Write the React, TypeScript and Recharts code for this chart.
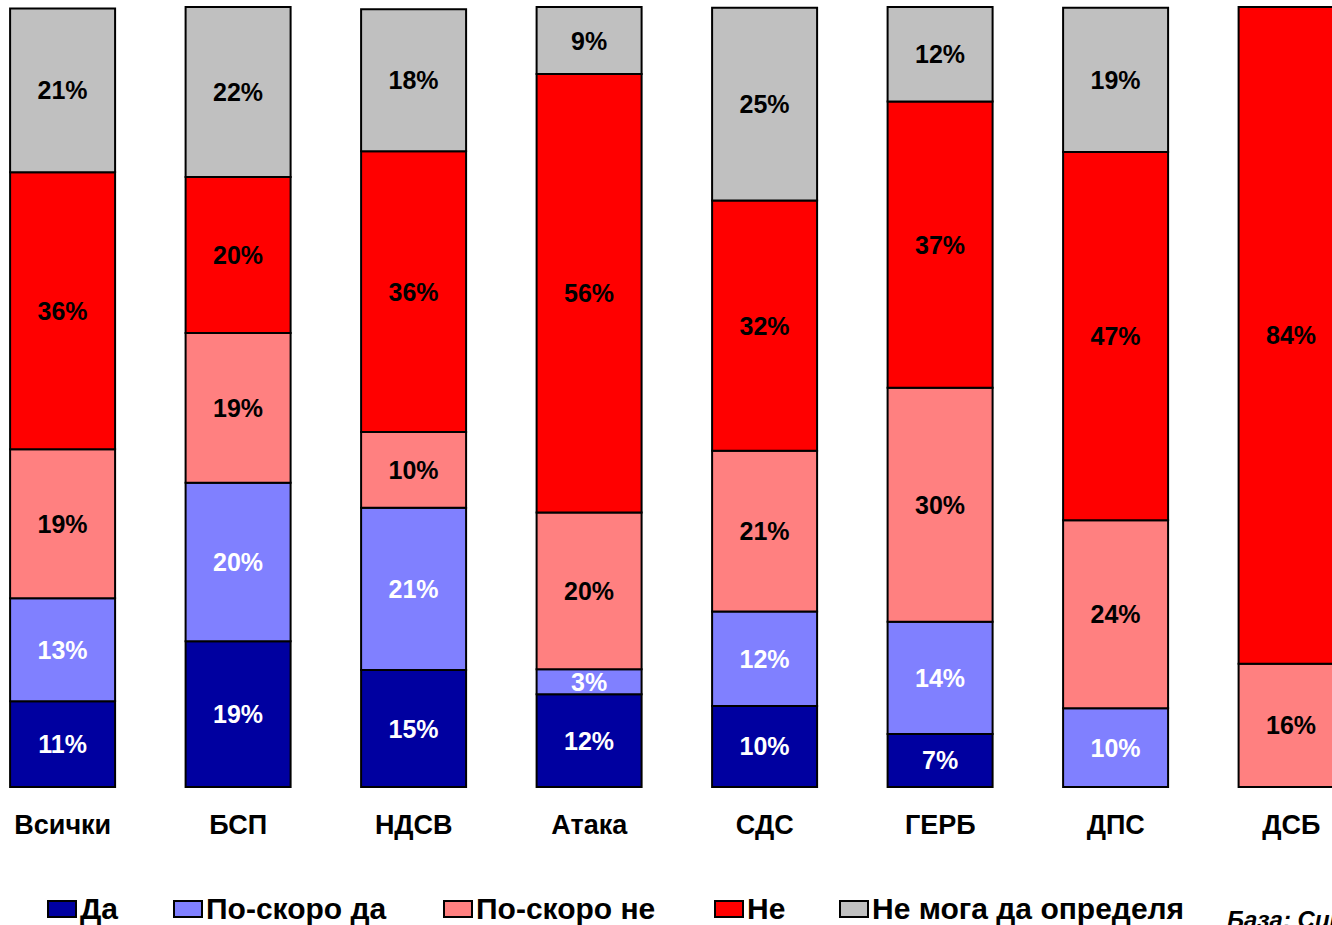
import React from "react";
import { BarChart, Bar, XAxis, YAxis, LabelList } from "recharts";

const categories = ["Всички", "БСП", "НДСВ", "Атака", "СДС", "ГЕРБ", "ДПС", "ДСБ"];
const da = [11.0, 18.7, 15.0, 11.9, 10.4, 6.8, 0, 0];
const poSkoroDa = [13.2, 20.3, 20.8, 3.2, 12.1, 14.4, 10.1, 0];
const poSkoroNe = [19.1, 19.2, 9.7, 20.1, 20.6, 30.0, 24.1, 15.8];
const ne = [35.5, 20.0, 36.0, 56.2, 32.1, 36.7, 47.2, 84.2];
const neMoga = [21.0, 21.8, 18.2, 8.6, 24.7, 12.1, 18.5, 0];

const seriesNames = ["Да", "По-скоро да", "По-скоро не", "Не", "Не мога да определя"];
const seriesKeys = ["da", "poSkoroDa", "poSkoroNe", "ne", "neMoga"];
const seriesColors = ["#0000A0", "#8080FF", "#FF8080", "#FF0000", "#C0C0C0"];
const labelColors = ["#FFFFFF", "#FFFFFF", "#000000", "#000000", "#000000"];
const baseNote = "База: Симпатизанти";

const data = categories.map((c, i) => ({
  name: c,
  da: da[i],
  poSkoroDa: poSkoroDa[i],
  poSkoroNe: poSkoroNe[i],
  ne: ne[i],
  neMoga: neMoga[i],
}));

const FONT = "'Liberation Sans', Arial, sans-serif";

const makeLabel = (color: string) => (props: any) => {
  const { x, y, width, height, value } = props;
  if (!value) return null;
  return (
    <text
      x={x + width / 2}
      y={y + height / 2}
      textAnchor="middle"
      dominantBaseline="central"
      fill={color}
      fontFamily={FONT}
      fontWeight="bold"
      fontSize={25}
    >
      {Math.round(value) + "%"}
    </text>
  );
};

const CatTick = (props: any) => {
  const { x, payload } = props;
  return (
    <text
      x={x}
      y={834}
      textAnchor="middle"
      fill="#000"
      fontFamily={FONT}
      fontWeight="bold"
      fontSize={27}
    >
      {payload.value}
    </text>
  );
};

const legendPos = [47, 173, 443, 714, 839];

export default function App() {
  return (
    <div
      style={{
        position: "absolute",
        left: 0,
        top: 0,
        width: 1332,
        height: 925,
        overflow: "hidden",
        background: "#fff",
      }}
    >
      <div style={{ position: "absolute", left: -25, top: 0 }}>
        <BarChart
          width={1404}
          height={850}
          data={data}
          margin={{ top: 7, right: 0, left: 0, bottom: 0 }}
          barCategoryGap="20%"
        >
          <XAxis
            dataKey="name"
            axisLine={false}
            tickLine={false}
            height={63}
            tick={<CatTick />}
            interval={0}
          />
          <YAxis hide domain={[0, 100]} />
          {seriesKeys.map((k, i) => (
            <Bar
              key={k}
              dataKey={k}
              stackId="a"
              fill={seriesColors[i]}
              stroke="#000"
              strokeWidth={2}
              isAnimationActive={false}
            >
              <LabelList dataKey={k} content={makeLabel(labelColors[i])} />
            </Bar>
          ))}
        </BarChart>
      </div>
      {seriesNames.map((n, i) => (
        <div
          key={n}
          style={{
            position: "absolute",
            left: legendPos[i],
            top: 894,
            display: "flex",
            alignItems: "center",
            fontFamily: FONT,
            fontWeight: "bold",
            fontSize: 30,
            whiteSpace: "nowrap",
            lineHeight: "30px",
          }}
        >
          <span
            style={{
              display: "inline-block",
              width: 26,
              height: 14,
              background: seriesColors[i],
              border: "2px solid #000",
              marginRight: 3,
            }}
          />
          <span>{n}</span>
        </div>
      ))}
      <div
        style={{
          position: "absolute",
          left: 1227,
          top: 906,
          fontFamily: FONT,
          fontWeight: "bold",
          fontStyle: "italic",
          fontSize: 24,
          whiteSpace: "nowrap",
          lineHeight: "28px",
        }}
      >
        {baseNote}
      </div>
    </div>
  );
}
